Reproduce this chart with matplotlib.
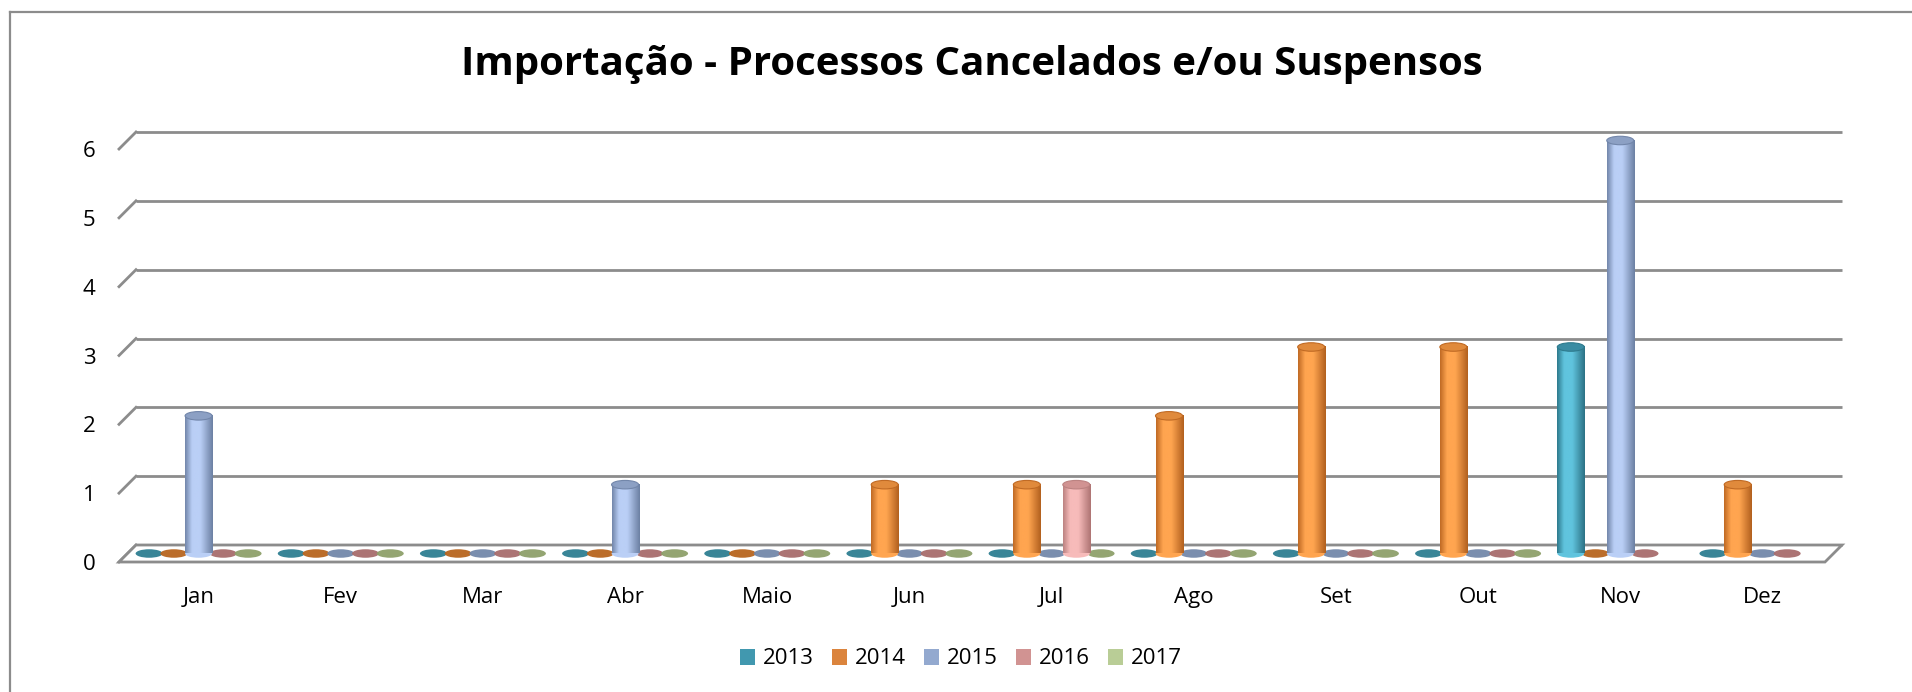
import numpy as np
import matplotlib
matplotlib.use("Agg")
import matplotlib.pyplot as plt
from matplotlib.patches import Ellipse, Rectangle, Polygon
from matplotlib.lines import Line2D
from matplotlib.colors import LinearSegmentedColormap
from matplotlib.transforms import ScaledTranslation

# ---------------- data ----------------
months = ["Jan", "Fev", "Mar", "Abr", "Maio", "Jun", "Jul", "Ago", "Set", "Out", "Nov", "Dez"]
years = ["2013", "2014", "2015", "2016", "2017"]
v2013 = [0, 0, 0, 0, 0, 0, 0, 0, 0, 0, 3, 0]
v2014 = [0, 0, 0, 0, 0, 1, 1, 2, 3, 3, 0, 1]
v2015 = [2, 0, 0, 1, 0, 0, 0, 0, 0, 0, 6, 0]
v2016 = [0, 0, 0, 0, 0, 0, 1, 0, 0, 0, 0, 0]
v2017 = [0, 0, 0, 0, 0, 0, 0, 0, 0, 0, None, None]
series = [v2013, v2014, v2015, v2016, v2017]
yticks = [0, 1, 2, 3, 4, 5, 6]
title = "Importação - Processos Cancelados e/ou Suspensos"

# ---------------- styles ----------------
legend_colors = ["#4198AF", "#DB843D", "#93A9CF", "#D19392", "#B9CD96"]
grad_stops = [
    ("#2E7A8D", "#60C4DE", "#2C7285"),
    ("#C06A24", "#FFA550", "#B2601E"),
    ("#7286AA", "#BACFF6", "#6C80A3"),
    ("#BC8281", "#F7BBBA", "#AE7473"),
    ("#8FA36B", "#D4E8B0", "#859862"),
]
top_colors = ["#3A8CA3", "#E08A3C", "#8CA0C4", "#D19392", "#A9BD86"]
top_edges = ["#2E7A8D", "#C06A24", "#7286AA", "#BC8281", "#8FA36B"]
zero_colors = ["#2E7F92", "#B8651E", "#7388AA", "#A86D6C", "#8EA06A"]
grid_col = "#8C8C8C"

plt.rcParams["font.family"] = ["Open Sans", "DejaVu Sans"]

W, H, DPI = 1912, 692, 100
fig = plt.figure(figsize=(W / DPI, H / DPI), dpi=DPI)
fig.patch.set_facecolor("white")

# axes = mid-depth plane of the pseudo-3D chart
ax_l, ax_r, ax_b, ax_t = 127.5, 1833.5, 553.5, 140.5
ax = fig.add_axes([ax_l / W, 1 - ax_b / H, (ax_r - ax_l) / W, (ax_b - ax_t) / H])
ax.set_xlim(-0.5, len(months) - 0.5)
ax.set_ylim(0, 6)
for s in ax.spines.values():
    s.set_visible(False)
ax.patch.set_alpha(0)

depth_px = 8.5
px_per_x = (ax_r - ax_l) / len(months)
px_per_y = (ax_b - ax_t) / 6
dxd = depth_px / px_per_x
dyd = depth_px / px_per_y
x0, x1 = -0.5, len(months) - 0.5

# back wall gridlines + left stubs
for k in yticks:
    ax.plot([x0 + dxd, x1 + dxd], [k + dyd, k + dyd], color=grid_col, lw=2.0,
            clip_on=False, zorder=1, solid_capstyle="butt")
    ax.plot([x0 - dxd, x0 + dxd], [k - dyd, k + dyd], color=grid_col, lw=2.0,
            clip_on=False, zorder=1)

# floor
floor = Polygon([(x0 - dxd, -dyd), (x1 - dxd, -dyd), (x1 + dxd, dyd), (x0 + dxd, dyd)],
                closed=True, facecolor="white", edgecolor=grid_col, lw=2.0,
                clip_on=False, zorder=1.5)
ax.add_patch(floor)

# bars
step = 0.174
bw = 0.19
eh = 8.5 / px_per_y
for j, vals in enumerate(series):
    cmap = LinearSegmentedColormap.from_list(
        f"c{j}", [(0, grad_stops[j][0]), (0.25, grad_stops[j][1]), (0.55, grad_stops[j][1]),
                  (1, grad_stops[j][2])])
    grad = cmap(np.linspace(0, 1, 64))[None, :, :3]
    for i, v in enumerate(vals):
        if v is None:
            continue
        xc = i + (j - 2) * step
        if v == 0:
            ax.add_patch(Ellipse((xc, 0), bw, eh, facecolor=zero_colors[j],
                                 edgecolor="none", zorder=3, clip_on=False, alpha=0.95))
        else:
            ax.add_patch(Ellipse((xc, 0), bw, eh, facecolor=grad_stops[j][1],
                                 edgecolor="none", zorder=4, clip_on=False))
            ax.imshow(grad, extent=[xc - bw / 2, xc + bw / 2, 0, v], aspect="auto",
                      interpolation="bicubic", zorder=4, clip_on=False)
            ax.add_patch(Ellipse((xc, v), bw, eh, facecolor=top_colors[j],
                                 edgecolor=top_edges[j], lw=0.8, zorder=5, clip_on=False))

ax.set_xlim(x0, x1)
ax.set_ylim(0, 6)

# ticks
ax.set_yticks(yticks)
ax.set_yticklabels([str(k) for k in yticks], fontsize=16)
ax.tick_params(axis="y", length=0, pad=23)
for lab in ax.get_yticklabels():
    lab.set_transform(lab.get_transform() + ScaledTranslation(0, -depth_px / DPI, fig.dpi_scale_trans))
ax.set_xticks(range(len(months)))
ax.set_xticklabels(months, fontsize=16)
ax.tick_params(axis="x", length=0, pad=24)

# title
fig.text(972 / W, 1 - 64 / H, title, ha="center", va="center", fontsize=29,
         fontweight="bold", color="black")

# legend
handles = [Rectangle((0, 0), 1, 1, facecolor=c, edgecolor="none") for c in legend_colors]
fig.legend(handles, years, loc="center", bbox_to_anchor=(961 / W, 1 - 659 / H), ncol=5,
           frameon=False, fontsize=16, handlelength=0.7, handleheight=0.7,
           handletextpad=0.35, columnspacing=0.8)

# outer border: only the top and left edges are inside the image
bx, by = 10 / W, 1 - 12 / H
fig.add_artist(Line2D([bx, 1.0], [by, by], transform=fig.transFigure, color="#8C8C8C", lw=1.6))
fig.add_artist(Line2D([bx, bx], [0.0, by], transform=fig.transFigure, color="#8C8C8C", lw=1.6))

fig.savefig("out.png", dpi=DPI, facecolor="white")
